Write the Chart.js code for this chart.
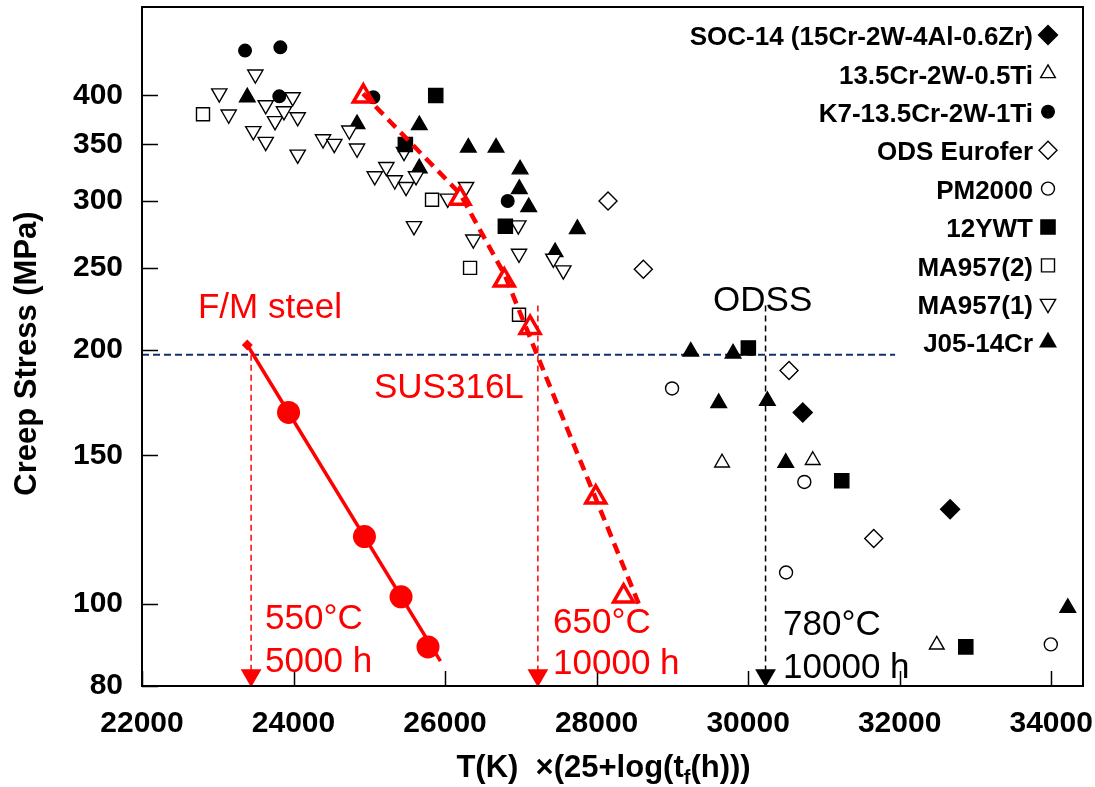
<!DOCTYPE html>
<html><head><meta charset="utf-8">
<script src="https://cdn.jsdelivr.net/npm/chart.js@4.4.1/dist/chart.umd.min.js"></script>
<style>html,body{margin:0;padding:0;background:#fff}canvas{display:block}</style>
</head><body>
<canvas id="c" width="1095" height="787"></canvas>
<script>
// ---- tick labels ----
const xTicks = [22000, 24000, 26000, 28000, 30000, 32000, 34000];
const yTicks = [80, 100, 150, 200, 250, 300, 350, 400];

// ---- series (x = T(K)*(25+log tf), y = creep stress MPa) ----
const soc14X = [30721, 32666];
const soc14Y = [168.6, 129.5];
const cr135X = [29656, 30853, 32490];
const cr135Y = [147, 148, 89.5];
const k7X = [23360, 23826, 23812, 25053, 26827];
const k7Y = [452, 456, 399, 398, 300];
const eurX = [28151, 28617, 30540, 31658];
const eurY = [300, 249, 189, 119.6];
const pmX = [28996, 30742, 30501, 33995];
const pmY = [180, 139.5, 109, 89.6];
const ywtX = [25877, 25476, 26796, 30003, 31236, 32873];
const ywtY = [400, 350, 280, 201, 140, 89];
const ma2X = [22805, 25828, 26330, 26976];
const ma2Y = [380, 301, 250, 220];
const ma1X = [23496, 23020, 23144, 23469, 23633, 23633, 23756, 23874, 23989, 24055, 24055, 24389, 24538, 24736, 24838, 25072, 25225, 25336, 25458, 25485, 25617, 25590, 26035, 26277, 26373, 26967, 26976, 27429, 27561];
const ma1Y = [423.6, 402.4, 379.8, 363, 389.6, 352.5, 373, 383.2, 398.2, 377, 340.5, 355, 350.6, 363.6, 346.2, 321, 329.2, 317.5, 343, 311.8, 321, 280.2, 302, 311.8, 270.2, 280.8, 259.9, 256.4, 248.4];
const j05X = [23390, 24838, 25660, 25660, 26307, 26673, 26990, 26980, 27104, 27746, 27452, 29243, 29801, 29612, 30254, 30497, 34219];
const j05Y = [398, 370, 369, 328, 347, 347, 327, 310, 295, 278, 261, 199, 198, 173, 174, 147, 99];

// F/M steel
const fmX = [23934, 24936, 25419, 25775];
const fmY = [168.6, 120.2, 102, 89];
const fmLineX = [23390, 25939];
const fmLineY = [202.6, 85.6];
// SUS316L
const susX = [24921, 26198, 26782, 27122, 27989, 28356];
const susY = [399, 302, 241.7, 212.4, 133.8, 102.2];
const susLineX = [24917, 26198, 26792, 27214, 28574];
const susLineY = [402, 306, 244.8, 197.3, 99.2];

// reference lines
const refLineX = [22000, 31940];
const refLineY = [197.3, 197.3];
const dropX = [23440, 27225, 30230];
const dropTopY = [197.3, 225.6, 225.6];
const dropBottomY = 82.4;

// annotation texts (data-unit anchors: left, baseline)
const noteText = ['F/M steel', 'SUS316L', '550°C', '5000 h', '650°C', '10000 h', '780°C', '10000 h', 'ODSS'];
const noteX = [22739, 25062, 23624, 23624, 27425, 27425, 30461, 30461, 29537];
const noteY = [218.2, 175.4, 93.4, 83.1, 92.4, 82.6, 91.9, 81.7, 222.4];
const noteColor = ['#ff0000', '#ff0000', '#ff0000', '#ff0000', '#ff0000', '#ff0000', '#000000', '#000000', '#000000'];

const FONT = "'Liberation Sans', Arial, Helvetica, sans-serif";
const P = (xs, ys) => xs.map((x, i) => ({x: x, y: ys[i]}));

function mk(label, xs, ys, style, filled, r, rot) {
  return {
    label: label, data: P(xs, ys), showLine: false,
    pointStyle: style, rotation: rot || 0, pointRadius: r, pointHoverRadius: r,
    pointBackgroundColor: filled ? '#000' : '#fff', pointBorderColor: '#000',
    pointBorderWidth: 1.4, order: 0, isSeries: true
  };
}
function lineDs(xs, ys, color, width, dash, order) {
  return {
    label: '', data: P(xs, ys), showLine: true, pointRadius: 0, pointHoverRadius: 0,
    borderColor: color, borderWidth: width, borderDash: dash, fill: false, order: order,
    tension: 0
  };
}

const datasets = [
  mk('SOC-14 (15Cr-2W-4Al-0.6Zr)', soc14X, soc14Y, 'rectRot', true, 9.5),
  mk('13.5Cr-2W-0.5Ti', cr135X, cr135Y, 'triangle', false, 8.5),
  mk('K7-13.5Cr-2W-1Ti', k7X, k7Y, 'circle', true, 6.3),
  mk('ODS Eurofer', eurX, eurY, 'rectRot', false, 9),
  mk('PM2000', pmX, pmY, 'circle', false, 6.5),
  mk('12YWT', ywtX, ywtY, 'rect', true, 10),
  mk('MA957(2)', ma2X, ma2Y, 'rect', false, 9.2),
  mk('MA957(1)', ma1X, ma1Y, 'triangle', false, 8.8, 180),
  mk('J05-14Cr', j05X, j05Y, 'triangle', true, 9),
];

const fmLine = lineDs(fmLineX, fmLineY, '#ff0000', 3.5, [], -1);
fmLine.pointRadius = [5.5, 0];
fmLine.pointStyle = 'rectRot';
fmLine.pointBackgroundColor = '#ff0000';
fmLine.pointBorderColor = '#ff0000';
fmLine.pointBorderWidth = 0;
datasets.push(fmLine);
datasets.push({label: '', data: P(fmX, fmY), showLine: false, pointStyle: 'circle', pointRadius: 11.5,
  pointHoverRadius: 11.5, pointBackgroundColor: '#ff0000', pointBorderColor: '#ff0000', pointBorderWidth: 0, order: -2});
datasets.push(lineDs(susLineX, susLineY, '#ff0000', 4.5, [11, 7], -1));
datasets.push({label: '', data: P(susX, susY), showLine: false, pointStyle: 'triangle', pointRadius: 11.5,
  pointHoverRadius: 11.5, pointBackgroundColor: 'rgba(255,255,255,0)', pointBorderColor: '#ff0000', pointBorderWidth: 3.5, order: -2});
datasets.push(lineDs(refLineX, refLineY, '#13306b', 2, [7, 4], 10));
dropX.forEach((dx, i) => {
  const col = i < 2 ? '#ff0000' : '#000000';
  datasets.push(lineDs([dx, dx], [dropTopY[i], dropBottomY], col, 1.5, [6, 4], 10));
  datasets.push({label: '', data: [{x: dx, y: dropBottomY}], showLine: false, pointStyle: 'triangle', rotation: 180,
    pointRadius: 12, pointHoverRadius: 12, pointBackgroundColor: col, pointBorderColor: col, pointBorderWidth: 0,
    order: -3, clip: false});
});

const decor = {
  id: 'decor',
  afterDraw(chart) {
    const ctx = chart.ctx, a = chart.chartArea, xs = chart.scales.x, ys = chart.scales.y;
    ctx.save();
    ctx.strokeStyle = '#000'; ctx.lineWidth = 2;
    ctx.strokeRect(a.left, a.top, a.right - a.left, a.bottom - a.top);
    ctx.lineWidth = 1.5;
    ctx.beginPath();
    xs.ticks.forEach(t => { const p = Math.round(xs.getPixelForValue(t.value)) + 0.5; ctx.moveTo(p, a.bottom); ctx.lineTo(p, a.bottom - 15); });
    ys.ticks.forEach(t => { const p = Math.round(ys.getPixelForValue(t.value)) + 0.5; ctx.moveTo(a.left, p); ctx.lineTo(a.left + 16, p); });
    ctx.stroke();

    ctx.font = '35px ' + FONT;
    ctx.textAlign = 'left'; ctx.textBaseline = 'alphabetic';
    noteText.forEach((t, i) => {
      ctx.fillStyle = noteColor[i];
      ctx.fillText(t, xs.getPixelForValue(noteX[i]), ys.getPixelForValue(noteY[i]));
    });

    ctx.font = 'bold 26px ' + FONT;
    ctx.textAlign = 'right'; ctx.textBaseline = 'middle';
    const series = chart.data.datasets.filter(d => d.isSeries);
    series.forEach((d, i) => {
      const yy = a.top + 31 + i * 38.4;
      ctx.fillStyle = '#000';
      ctx.fillText(d.label, a.right - 50, yy);
      ctx.fillStyle = d.pointBackgroundColor; ctx.strokeStyle = '#000'; ctx.lineWidth = d.pointBorderWidth;
      Chart.helpers.drawPoint(ctx, {pointStyle: d.pointStyle, rotation: d.rotation, radius: d.pointRadius, borderWidth: d.pointBorderWidth},
        a.right - 35, yy - 3);
    });

    ctx.fillStyle = '#000';
    ctx.font = 'bold 31px ' + FONT;
    ctx.save();
    ctx.translate(27, (a.top + a.bottom) / 2 + 7);
    ctx.rotate(-Math.PI / 2);
    ctx.textAlign = 'center'; ctx.textBaseline = 'middle';
    ctx.fillText('Creep Stress (MPa)', 0, 0);
    ctx.restore();

    const parts = [['T(K)  ×(25+log(t', 31, 0], ['f', 20, 7], ['(h)))', 31, 0]];
    let total = 0;
    parts.forEach(p => { ctx.font = 'bold ' + p[1] + 'px ' + FONT; total += ctx.measureText(p[0]).width; });
    let cx = (a.left + a.right) / 2 - total / 2 - 9;
    const base = 777;
    ctx.textAlign = 'left'; ctx.textBaseline = 'alphabetic';
    parts.forEach(p => {
      ctx.font = 'bold ' + p[1] + 'px ' + FONT;
      ctx.fillText(p[0], cx, base + p[2]);
      cx += ctx.measureText(p[0]).width;
    });
    ctx.restore();
  }
};

const noPad = s => { s.paddingLeft = 0; s.paddingRight = 0; s.paddingTop = 0; s.paddingBottom = 0; };

new Chart(document.getElementById('c'), {
  type: 'scatter',
  data: {datasets: datasets},
  plugins: [decor],
  options: {
    responsive: false, animation: false, devicePixelRatio: 1, events: [],
    layout: {autoPadding: false, padding: {top: 7, right: 12, left: 0, bottom: 0}},
    plugins: {legend: {display: false}, tooltip: {enabled: false}},
    scales: {
      x: {
        type: 'linear', min: 22000, max: 34420,
        afterBuildTicks: s => { s.ticks = xTicks.map(v => ({value: v})); },
        afterFit: s => { noPad(s); s.height = 101; },
        grid: {display: false, drawTicks: false}, border: {display: false},
        ticks: {color: '#000', padding: 20, maxRotation: 0, autoSkip: false,
          font: {family: FONT, size: 30, weight: 'bold'}, callback: v => String(v)}
      },
      y: {
        type: 'logarithmic', min: 80, max: 509,
        afterBuildTicks: s => { s.ticks = yTicks.map(v => ({value: v})); },
        afterFit: s => { noPad(s); s.width = 142; },
        grid: {display: false, drawTicks: false}, border: {display: false},
        ticks: {color: '#000', padding: 19, autoSkip: false,
          font: {family: FONT, size: 30, weight: 'bold'}, callback: v => String(v)}
      }
    }
  }
});
</script>
</body></html>
